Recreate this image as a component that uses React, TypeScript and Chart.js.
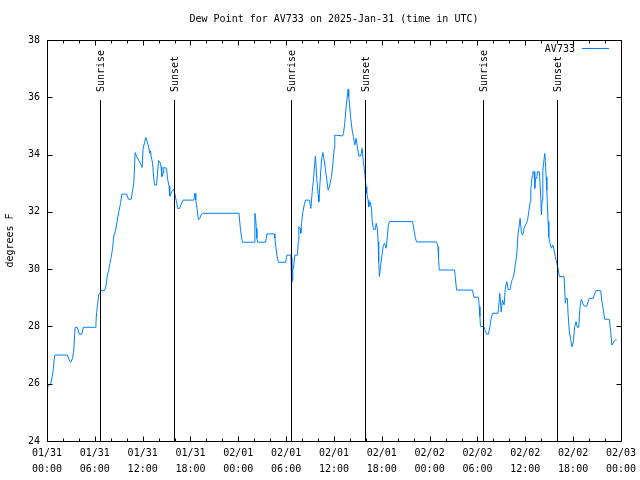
import React, { useEffect, useRef } from 'react';
import { Chart, registerables } from 'chart.js';

Chart.register(...registerables);

const TITLE = 'Dew Point for AV733 on 2025-Jan-31 (time in UTC)';
const SERIES_LABEL = 'AV733';
const Y_LABEL = 'degrees F';

// hours since 2025-01-31 00:00 UTC
const hours = [
  0, 0.13, 0.46, 0.63, 0.79, 0.96, 2.54, 2.79, 2.97, 3.22,
  3.38, 3.47, 3.54, 3.79, 4.04, 4.38, 4.55, 6.05, 6.14, 6.22,
  6.39, 6.47, 6.72, 6.8, 7.23, 7.39, 7.55, 7.73, 7.89, 8.05,
  8.23, 8.39, 8.55, 8.73, 8.89, 9.05, 9.23, 9.39, 9.98, 10.23,
  10.56, 10.73, 10.89, 10.98, 11.06, 11.23, 11.48, 11.81, 11.93, 12.06,
  12.23, 12.4, 12.56, 12.73, 12.9, 12.99, 13.06, 13.24, 13.4, 13.49,
  13.74, 13.9, 13.99, 14.15, 14.31, 14.4, 14.56, 14.65, 14.99, 15.15,
  15.31, 15.4, 15.65, 15.9, 16.07, 16.24, 16.4, 16.65, 16.82, 17.07,
  18.41, 18.57, 18.66, 18.82, 19.0, 19.16, 19.32, 19.5, 24.08, 24.26,
  24.42, 24.51, 26.01, 26.08, 26.17, 26.26, 26.33, 26.42, 27.42, 27.59,
  28.51, 28.59, 28.68, 28.84, 29.01, 29.93, 30.09, 30.59, 30.68, 30.72,
  30.76, 30.84, 30.93, 31.09, 31.43, 31.52, 31.59, 31.77, 31.84, 31.93,
  32.1, 32.27, 32.43, 32.93, 33.1, 33.27, 33.43, 33.6, 33.68, 33.85,
  34.02, 34.1, 34.27, 34.44, 34.6, 34.77, 34.94, 35.1, 35.27, 35.44,
  35.69, 35.85, 36.03, 36.1, 37.1, 37.19, 37.35, 37.53, 37.69, 37.78,
  37.85, 37.94, 38.1, 38.28, 38.44, 38.61, 38.78, 38.94, 39.11, 39.36,
  39.53, 39.69, 39.86, 39.94, 40.03, 40.11, 40.28, 40.36, 40.53, 40.7,
  40.78, 40.95, 41.2, 41.29, 41.45, 41.54, 41.61, 41.7, 41.86, 42.04,
  42.2, 42.36, 42.54, 42.7, 42.79, 42.95, 45.87, 46.04, 46.21, 46.37,
  48.87, 49.05, 49.12, 49.21, 51.13, 51.21, 51.38, 53.38, 53.56, 54.13,
  54.22, 54.31, 54.38, 54.81, 54.97, 55.13, 55.38, 55.56, 55.72, 55.89,
  56.56, 56.64, 56.81, 56.98, 57.14, 57.35, 57.51, 57.69, 57.85, 58.1,
  58.26, 58.44, 58.6, 58.77, 58.94, 59.1, 59.27, 59.35, 59.52, 59.69,
  59.85, 60.02, 60.27, 60.44, 60.61, 60.69, 60.86, 60.94, 61.11, 61.19,
  61.27, 61.44, 61.52, 61.77, 61.95, 62.02, 62.11, 62.2, 62.27, 62.45,
  62.52, 62.61, 62.7, 62.77, 62.86, 62.95, 63.11, 63.27, 63.45, 63.61,
  63.77, 63.95, 64.11, 64.28, 64.86, 65.03, 65.11, 65.28, 65.36, 65.53,
  65.7, 65.86, 66.03, 66.2, 66.37, 66.53, 66.7, 66.87, 67.03, 67.21,
  67.37, 67.71, 67.87, 68.03, 68.53, 68.71, 68.87, 69.46, 69.62, 69.79,
  69.96, 70.54, 70.71, 70.87, 71.13, 71.29, 71.46,
];

const dewPointF = [
  25.75, 25.9, 26.0, 26.2, 26.5, 27.0, 27.0, 26.83, 26.75, 26.9,
  27.23, 27.73, 27.97, 27.97, 27.73, 27.73, 27.97, 27.97, 28.13, 28.48,
  28.86, 29.1, 29.2, 29.25, 29.25, 29.41, 29.74, 29.95, 30.2, 30.41,
  30.73, 31.16, 31.31, 31.54, 31.83, 32.06, 32.3, 32.62, 32.62, 32.44,
  32.44, 32.74, 33.0, 33.6, 34.07, 33.93, 33.81, 33.64, 33.55, 34.22,
  34.41, 34.6, 34.45, 34.3, 34.04, 34.13, 33.95, 33.7, 33.14, 32.94,
  32.94, 33.46, 33.79, 33.75, 33.58, 33.23, 33.35, 33.55, 33.52, 33.11,
  32.9, 32.55, 32.7, 32.79, 32.59, 32.35, 32.12, 32.12, 32.27, 32.41,
  32.41, 32.65, 32.41, 32.12, 31.72, 31.77, 31.89, 31.95, 31.95, 31.42,
  31.08, 30.94, 30.94, 31.95, 31.77, 31.42, 31.08, 30.94, 30.94, 31.23,
  31.23, 31.08, 30.84, 30.49, 30.24, 30.24, 30.49, 30.49, 29.5, 30.4,
  29.6, 30.0, 30.03, 30.49, 30.49, 30.96, 31.48, 31.42, 31.25, 31.6,
  32.0, 32.24, 32.41, 32.41, 32.12, 32.7, 33.14, 33.75, 33.95, 33.11,
  32.59, 32.35, 33.11, 33.81, 34.07, 33.81, 33.46, 33.11, 32.76, 32.9,
  33.23, 33.64, 34.22, 34.68, 34.65, 34.74, 35.09, 35.67, 36.08, 36.28,
  36.02, 35.79, 35.27, 34.86, 34.62, 34.33, 34.57, 34.27, 33.95, 33.95,
  34.22, 33.75, 33.35, 33.11, 32.88, 32.65, 32.41, 32.18, 32.35, 32.12,
  31.72, 31.39, 31.39, 31.6, 31.42, 30.96, 30.26, 29.74, 30.14, 30.55,
  30.84, 30.9, 30.73, 31.13, 31.48, 31.66, 31.66, 31.37, 31.08, 30.95,
  30.95, 30.78, 30.38, 29.97, 29.97, 29.74, 29.27, 29.27, 29.02, 29.02,
  28.69, 28.34, 28.0, 28.0, 27.85, 27.73, 27.73, 28.0, 28.28, 28.46,
  28.46, 28.63, 29.15, 28.51, 28.92, 28.75, 29.39, 29.56, 29.29, 29.29,
  29.56, 29.68, 29.85, 30.2, 30.55, 31.25, 31.6, 31.77, 31.27, 31.19,
  31.42, 31.54, 31.69, 32.0, 32.35, 32.76, 33.23, 33.4, 33.4, 32.82,
  33.17, 33.17, 33.4, 33.4, 32.47, 31.89, 32.41, 33.4, 33.64, 34.04,
  33.75, 33.23, 32.76, 32.3, 31.66, 31.13, 30.9, 30.73, 30.84, 30.67,
  30.43, 30.2, 30.03, 29.74, 29.74, 28.81, 28.98, 28.98, 28.46, 27.82,
  27.53, 27.29, 27.47, 28.0, 28.17, 27.97, 27.97, 28.69, 28.95, 28.81,
  28.71, 28.71, 28.86, 28.98, 28.98, 29.15, 29.25, 29.25, 28.86, 28.57,
  28.25, 28.25, 27.82, 27.35, 27.47, 27.53, 27.53,
];

const xTickDates = ['01/31', '01/31', '01/31', '01/31', '02/01', '02/01', '02/01', '02/01', '02/02', '02/02', '02/02', '02/02', '02/03'];
const xTickTimes = ['00:00', '06:00', '12:00', '18:00', '00:00', '06:00', '12:00', '18:00', '00:00', '06:00', '12:00', '18:00', '00:00'];
const sunriseHours = [6.65, 30.6, 54.65];
const sunsetHours = [15.95, 39.95, 64.0];

const FAMILY = 'DejaVu Sans Mono';
const FONT = `10px "${FAMILY}"`;
const LINE_COLOR = '#0080ff';

const overlay = {
  id: 'gnuplotOverlay',
  afterDatasetsDraw(chart: any) {
    const { ctx, chartArea: a, scales } = chart;
    const x = scales.x;
    ctx.save();
    ctx.strokeStyle = '#000';
    ctx.fillStyle = '#000';
    ctx.lineWidth = 1;
    ctx.font = FONT;
    const drawSun = (h: number, label: string) => {
      const px = Math.round(x.getPixelForValue(h)) + 0.5;
      ctx.beginPath();
      ctx.moveTo(px, a.top + 60);
      ctx.lineTo(px, a.bottom);
      ctx.stroke();
      ctx.save();
      ctx.translate(px + 1, a.top + 52);
      ctx.rotate(-Math.PI / 2);
      ctx.textAlign = 'left';
      ctx.textBaseline = 'middle';
      ctx.fillText(label, 0, 0);
      ctx.restore();
    };
    sunriseHours.forEach((h) => drawSun(h, 'Sunrise'));
    sunsetHours.forEach((h) => drawSun(h, 'Sunset'));
    ctx.restore();
  },
  afterDraw(chart: any) {
    const { ctx, chartArea: a, scales } = chart;
    const x = scales.x;
    const y = scales.y;
    ctx.save();
    ctx.strokeStyle = '#000';
    ctx.fillStyle = '#000';
    ctx.lineWidth = 1;
    const L = Math.round(a.left) + 0.5;
    const R = Math.round(a.right) + 0.5;
    const T = Math.round(a.top) + 0.5;
    const B = Math.round(a.bottom) + 0.5;
    ctx.beginPath();
    ctx.rect(L, T, R - L, B - T);
    ctx.stroke();
    // x ticks (every 2 h), inward, mirrored
    ctx.beginPath();
    for (let h = x.min; h <= x.max; h += 2) {
      const px = Math.round(x.getPixelForValue(h)) + 0.5;
      const len = h % 6 === 0 ? 5 : 3;
      ctx.moveTo(px, B);
      ctx.lineTo(px, B - len);
      ctx.moveTo(px, T);
      ctx.lineTo(px, T + len);
    }
    // y ticks
    y.ticks.forEach((t: any) => {
      const py = Math.round(y.getPixelForValue(t.value)) + 0.5;
      ctx.moveTo(L, py);
      ctx.lineTo(L + 5, py);
      ctx.moveTo(R, py);
      ctx.lineTo(R - 5, py);
    });
    ctx.stroke();
    // title
    ctx.font = FONT;
    ctx.textAlign = 'center';
    ctx.textBaseline = 'middle';
    ctx.fillText(TITLE, (a.left + a.right) / 2, 19);
    // legend
    const ds = chart.data.datasets[0];
    ctx.textAlign = 'right';
    ctx.fillText(ds.label, a.right - 46, a.top + 9);
    ctx.strokeStyle = ds.borderColor;
    ctx.beginPath();
    ctx.moveTo(a.right - 39, a.top + 8.5);
    ctx.lineTo(a.right - 12, a.top + 8.5);
    ctx.stroke();
    ctx.restore();
  },
};

export default function App() {
  const ref = useRef<HTMLCanvasElement>(null);
  useEffect(() => {
    const points = hours.map((h, i) => ({ x: h, y: dewPointF[i] }));
    const chart = new Chart(ref.current as HTMLCanvasElement, {
      type: 'line',
      data: {
        datasets: [
          {
            label: SERIES_LABEL,
            data: points,
            borderColor: LINE_COLOR,
            backgroundColor: LINE_COLOR,
            borderWidth: 1,
            pointRadius: 0,
            tension: 0,
            fill: false,
          },
        ],
      },
      options: {
        responsive: false,
        animation: false,
        devicePixelRatio: 1,
        layout: { padding: { top: 40, right: 18, left: 0, bottom: 0 } },
        plugins: { legend: { display: false }, title: { display: false }, tooltip: { enabled: false } },
        scales: {
          x: {
            type: 'linear',
            min: 0,
            max: 72,
            grid: { display: false, drawTicks: false },
            border: { display: false },
            ticks: {
              stepSize: 6,
              maxTicksLimit: 100,
              autoSkip: false,
              maxRotation: 0,
              minRotation: 0,
              padding: 4,
              color: '#000',
              font: { family: FAMILY, size: 10, lineHeight: 1.6 },
              callback: (v: any) => {
                const i = Math.round(Number(v) / 6);
                return [xTickDates[i], xTickTimes[i]];
              },
            },
            afterFit: (s: any) => {
              s.height = 39;
            },
          },
          y: {
            min: 24,
            max: 38,
            grid: { display: false, drawTicks: false },
            border: { display: false },
            ticks: {
              stepSize: 2,
              padding: 7,
              color: '#000',
              font: { family: FAMILY, size: 10 },
            },
            title: {
              display: true,
              text: Y_LABEL,
              color: '#000',
              font: { family: FAMILY, size: 10, lineHeight: 1.2 },
              padding: { top: 4, bottom: 0 },
            },
            afterFit: (s: any) => {
              s.width = 47;
            },
          },
        },
      },
      plugins: [overlay],
    } as any);
    return () => chart.destroy();
  }, []);
  return (
    <div style={{ position: 'fixed', left: 0, top: 0, width: 640, height: 480, background: '#fff' }}>
      <canvas ref={ref} width={640} height={480} style={{ display: 'block', width: 640, height: 480 }} />
    </div>
  );
}
